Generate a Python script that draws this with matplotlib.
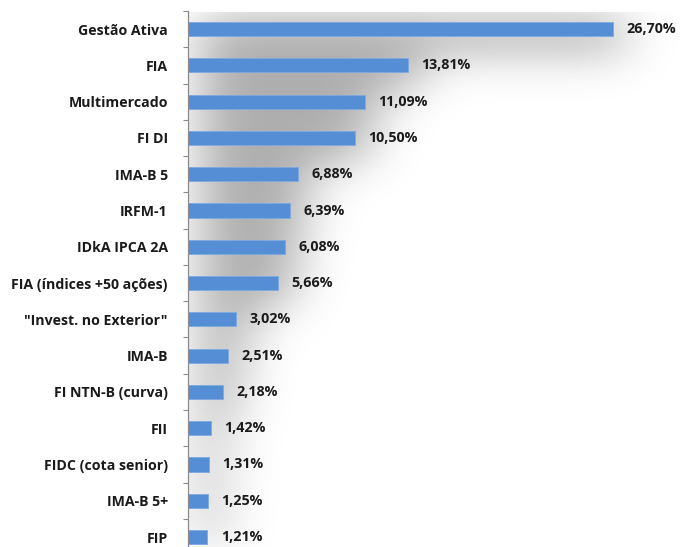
import matplotlib.pyplot as plt
import numpy as np

categories = ["Gestão Ativa", "FIA", "Multimercado", "FI DI", "IMA-B 5", "IRFM-1",
              "IDkA IPCA 2A", "FIA (índices +50 ações)", "\"Invest. no Exterior\"",
              "IMA-B", "FI NTN-B (curva)", "FII", "FIDC (cota senior)", "IMA-B 5+", "FIP"]
values = [26.70, 13.81, 11.09, 10.50, 6.88, 6.39, 6.08, 5.66, 3.02, 2.51, 2.18,
          1.42, 1.31, 1.25, 1.21]

BAR = "#558ED5"
TXT = "#1a1a1a"
plt.rcParams["font.family"] = ["Open Sans", "DejaVu Sans"]

W, H = 680, 547
fig = plt.figure(figsize=(W / 100, H / 100), dpi=100)
ax_left, ax_top = 188, 11
ax = fig.add_axes([ax_left / W, 0, (W - ax_left) / W, 1 - ax_top / H])

px_per_unit = (613 - ax_left) / 26.70
xmax = (W - ax_left) / px_per_unit
ytop, ybot = -0.47, len(values) - 1 + 0.275
ax.set_xlim(0, xmax)
ax.set_ylim(ybot, ytop)

# soft gray glow behind the bars (blurred shadow of the bar group)
nx, ny = W - ax_left, H - ax_top
xs = np.linspace(0, xmax, nx)
ys = np.linspace(ytop, ybot, ny)
mask = np.zeros((ny, nx))
for i, v in enumerate(values):
    rows = np.abs(ys - i - 0.15) < 0.5
    mask[np.ix_(rows, (xs > 0.8) & (xs < v + 0.8))] = 1.0


def blur(a, sigma, axis):
    r = int(3 * sigma)
    k = np.exp(-0.5 * (np.arange(-r, r + 1) / sigma) ** 2)
    k /= k.sum()
    return np.apply_along_axis(lambda m: np.convolve(np.pad(m, r), k, mode="valid"), axis, a)


shadow = blur(blur(mask, 26, 1), 22, 0)
rgba = np.zeros((ny, nx, 4))
rgba[..., 3] = 0.32 * shadow
ax.imshow(rgba, extent=(0, xmax, ybot, ytop), aspect="auto", zorder=0, interpolation="bilinear")

y = np.arange(len(values))
ax.barh(y, values, height=0.39, color=BAR, edgecolor="#7fa9e0", linewidth=0.6, zorder=2)
for yi, v in zip(y, values):
    ax.text(v + 0.85, yi, f"{v:.2f}%".replace(".", ","), va="center", ha="left",
            fontsize=10.3, fontweight="bold", color=TXT, zorder=3)

ax.set_yticks(y)
ax.set_yticklabels(categories, fontsize=10.2, fontweight="bold", color=TXT)
ax.tick_params(axis="y", which="major", length=0, pad=14.5)
ax.set_yticks(np.arange(len(values)) - 0.5, minor=True)
ax.tick_params(axis="y", which="minor", length=3.6, color="#8c8c8c", width=0.8)
ax.set_xticks([])
for s in ["top", "right", "bottom"]:
    ax.spines[s].set_visible(False)
ax.spines["left"].set_color("#8c8c8c")
ax.spines["left"].set_linewidth(0.9)
ax.set_zorder(1)

fig.savefig("out.png", dpi=100)
